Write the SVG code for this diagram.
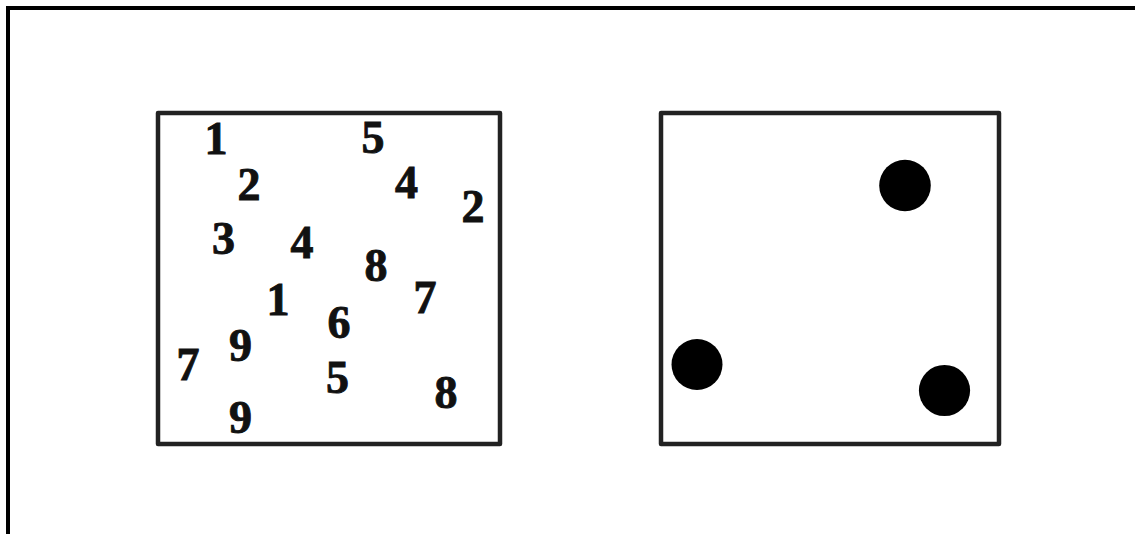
<svg xmlns="http://www.w3.org/2000/svg" width="1135" height="534" viewBox="0 0 1135 534">
<style>
.frame{fill:none;stroke:#000;stroke-width:4}
.box{fill:#fff;stroke:#222;stroke-width:4.5;stroke-linejoin:round}
.num{font-family:"Liberation Serif","Times New Roman",serif;font-weight:bold;font-size:46px;fill:#111;stroke:#111;stroke-width:0.9;text-anchor:middle}
.dot{fill:#000}
</style>
<rect width="1135" height="534" fill="#fff"/>
<path class="frame" d="M8,534 V8 H1135"/>
<g id="numbers-panel">
<rect class="box" x="158" y="113" width="342" height="331"/>
<text class="num" x="216" y="154">1</text>
<text class="num" x="373" y="153">5</text>
<text class="num" x="249" y="200">2</text>
<text class="num" x="406.5" y="198">4</text>
<text class="num" x="473" y="222">2</text>
<text class="num" x="223.5" y="254">3</text>
<text class="num" x="302" y="258">4</text>
<text class="num" x="376" y="281">8</text>
<text class="num" x="425" y="313">7</text>
<text class="num" x="278" y="315">1</text>
<text class="num" x="339" y="338">6</text>
<text class="num" x="240.5" y="361">9</text>
<text class="num" x="188" y="380">7</text>
<text class="num" x="337.5" y="393">5</text>
<text class="num" x="446" y="408">8</text>
<text class="num" x="240.5" y="433">9</text>
</g>
<g id="dots-panel">
<rect class="box" x="661" y="113" width="338" height="331"/>
<circle class="dot" cx="905" cy="185.5" r="25.8"/>
<circle class="dot" cx="697" cy="364.5" r="25.5"/>
<circle class="dot" cx="944.5" cy="390.5" r="25.6"/>
</g>
</svg>
